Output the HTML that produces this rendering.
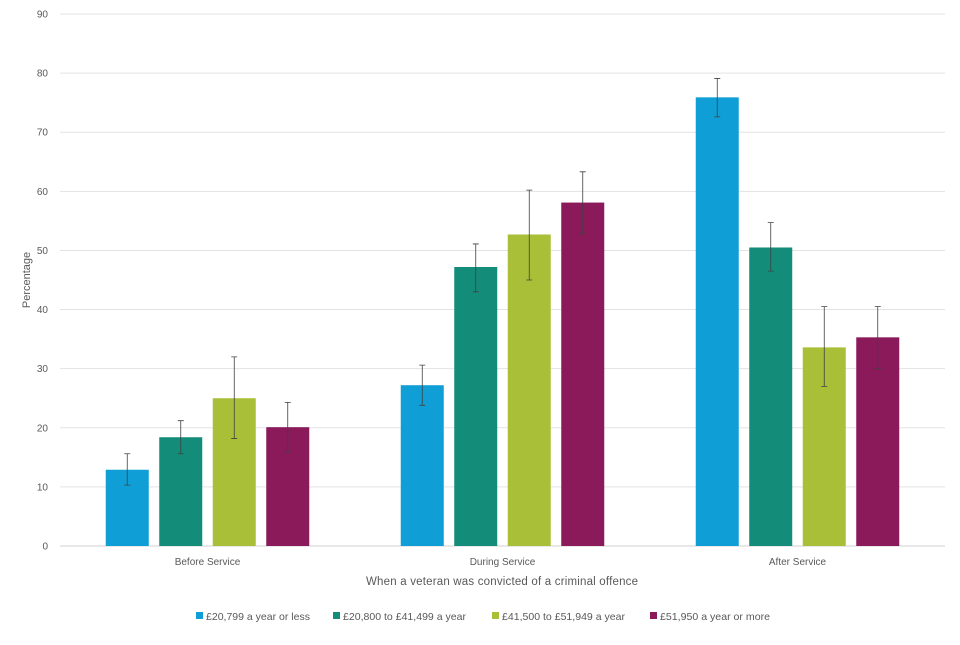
<!DOCTYPE html>
<html><head><meta charset="utf-8"><style>
body{margin:0;background:#fff;font-family:"Liberation Sans",sans-serif}
svg text{fill:#595959;font-size:10px}
</style></head><body>
<svg id="c" width="960" height="640"></svg>
<script>
const categories=["Before Service","During Service","After Service"];
const seriesNames=["£20,799 a year or less","£20,800 to £41,499 a year","£41,500 to £51,949 a year","£51,950 a year or more"];
const colors=["#0f9ed5","#138c7a","#a9bf38","#8a1a5a"];
const s1=[12.9,27.2,75.9];
const s2=[18.4,47.2,50.5];
const s3=[25.0,52.7,33.6];
const s4=[20.1,58.1,35.3];
const lo1=[10.3,23.8,72.6],hi1=[15.6,30.6,79.1];
const lo2=[15.6,43.0,46.5],hi2=[21.2,51.1,54.7];
const lo3=[18.2,45.0,27.0],hi3=[32.0,60.2,40.5];
const lo4=[16.0,52.8,30.0],hi4=[24.3,63.3,40.5];
const yTicks=[0,10,20,30,40,50,60,70,80,90];
const series=[s1,s2,s3,s4],los=[lo1,lo2,lo3,lo4],his=[hi1,hi2,hi3,hi4];
const NS="http://www.w3.org/2000/svg",svg=document.getElementById('c');
const x0=60,x1=945,yB=546,yT=14;
const y=v=>yB-(v/90)*(yB-yT);
const gw=(x1-x0)/categories.length;
const bw=43,step=53.5;
function mk(t,a,p){const e=document.createElementNS(NS,t);for(const k in a)e.setAttribute(k,a[k]);(p||svg).appendChild(e);return e;}
yTicks.forEach(t=>{
 const g=mk('line',{x1:x0,x2:x1,y1:y(t),y2:y(t),stroke:t===0?'#d0d0d0':'#e3e3e3','stroke-width':1});
 
 
 const l=mk('text',{x:48,y:y(t)+3.5,'text-anchor':'end'});l.textContent=t;
 
 
});
categories.forEach((c,i)=>{
 const cx=x0+gw*(i+0.5);
 const l=mk('text',{x:cx,y:565,'text-anchor':'middle'});l.textContent=c;
 
 
 series.forEach((s,j)=>{
  const bx=cx-1.5*step+j*step-bw/2;
  const r=mk('rect',{x:bx,y:y(s[i]),width:bw,height:yB-y(s[i]),fill:colors[j]});
  
  
  const mx=bx+bw/2,ya=y(los[j][i]),yb=y(his[j][i]);
  const e=mk('path',{d:`M${mx},${ya}V${yb}M${mx-3},${ya}H${mx+3}M${mx-3},${yb}H${mx+3}`,stroke:'#404040','stroke-width':0.8,fill:'none'});
  
  
 });
});
const xt=mk('text',{x:502,y:585,'text-anchor':'middle'});xt.textContent="When a veteran was convicted of a criminal offence";
xt.style.fontSize='11.5px';
xt.setAttribute('textLength','272');


const yt=mk('text',{x:0,y:0,'text-anchor':'middle',transform:'translate(30,280) rotate(-90)'});yt.textContent="Percentage";
yt.style.fontSize='11px';


const lx=[196,333,492,650];
const legendTextWidths=[104,123,123,110];
seriesNames.forEach((n,j)=>{
 const g=mk('g',{});
 
 
 mk('rect',{x:lx[j],y:612,width:7,height:7,fill:colors[j]},g);
 const t=mk('text',{x:lx[j]+10,y:620,textLength:legendTextWidths[j],lengthAdjust:'spacingAndGlyphs'},g);t.textContent=n;
 t.style.fontSize='10.5px';
});
</script>
</body></html>
